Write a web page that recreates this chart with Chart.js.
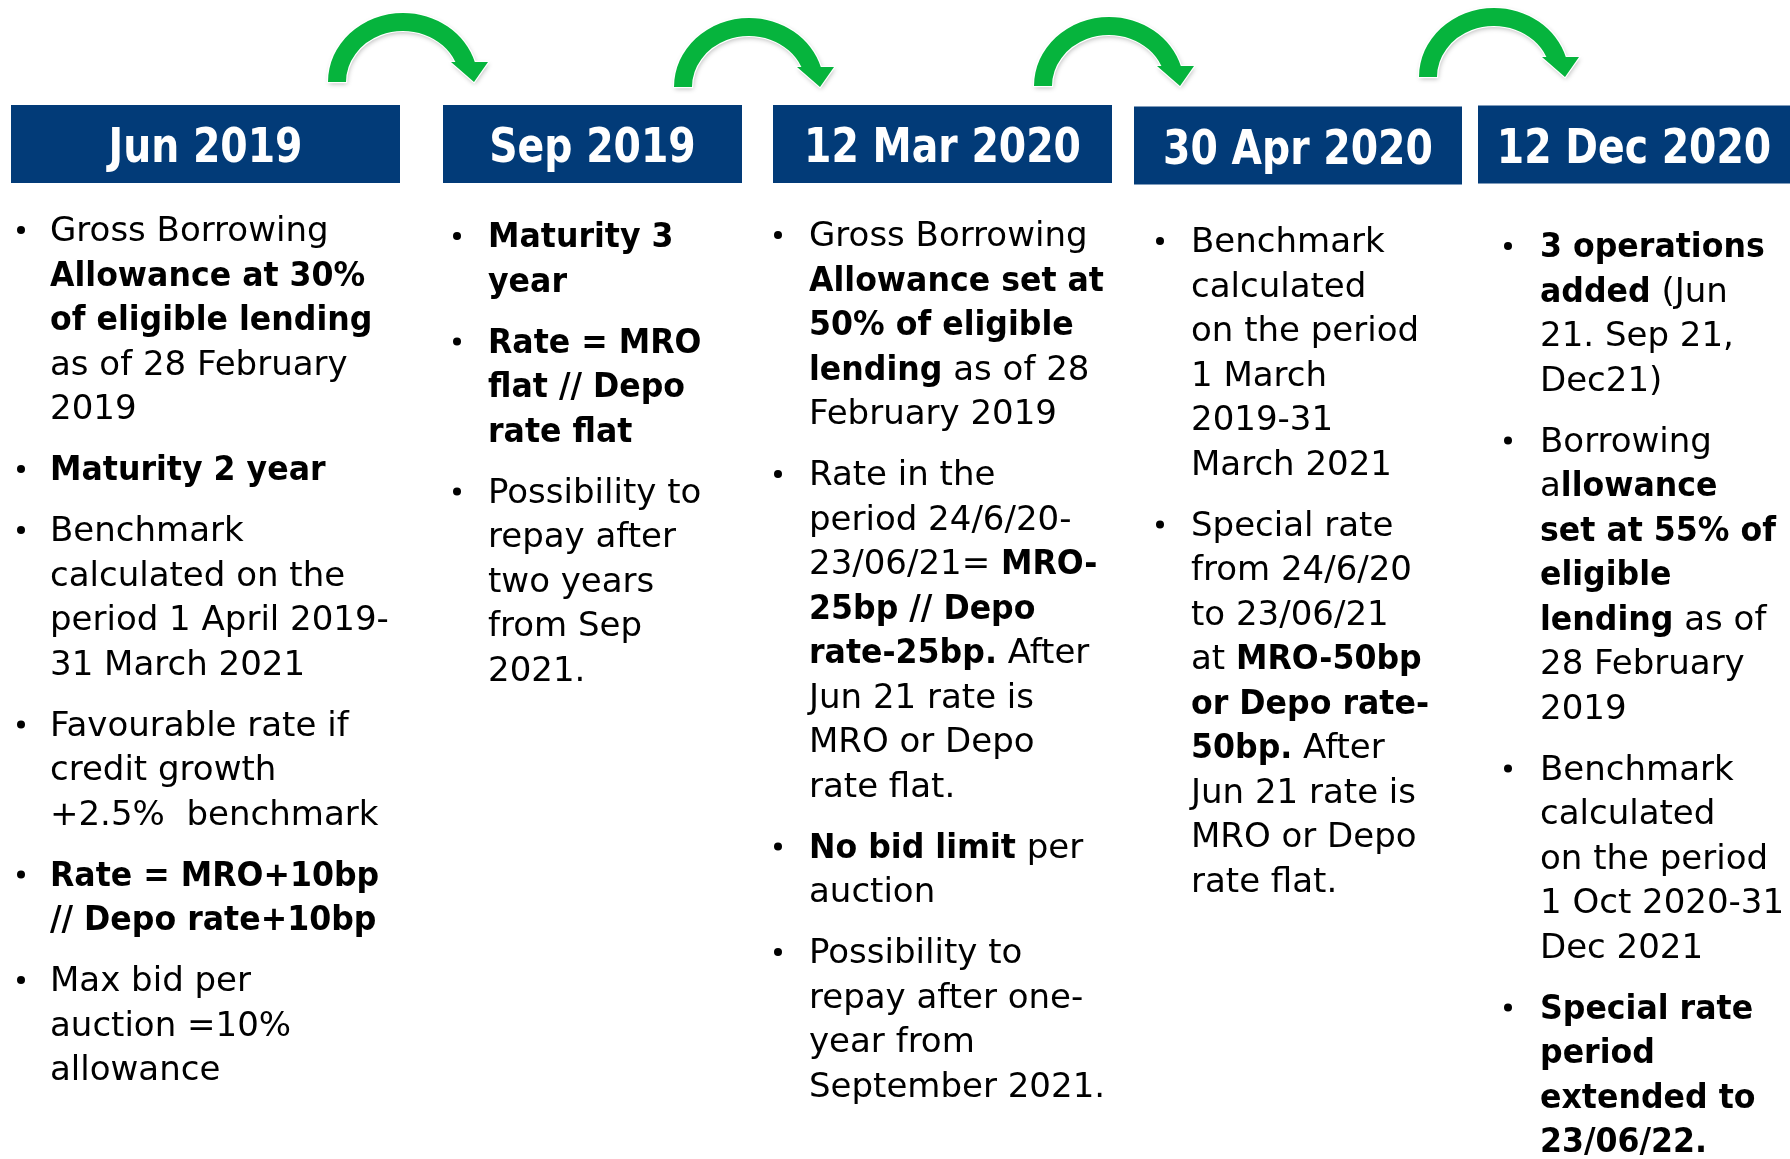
<!DOCTYPE html>
<html>
<head>
<meta charset="utf-8">
<script src="https://cdn.jsdelivr.net/npm/chart.js@4.4.1/dist/chart.umd.min.js"></script>
<style>
html,body{margin:0;padding:0;background:#ffffff;overflow:hidden;}
canvas{display:block;}
</style>
</head>
<body>
<canvas id="timeline" width="1790" height="1159"></canvas>
<script>
// ---------------- DATA ----------------
const periods = ['Jun 2019', 'Sep 2019', '12 Mar 2020', '30 Apr 2020', '12 Dec 2020'];

// each bullet = list of lines; **...** marks bold runs
const bulletsJun2019 = [
  ['Gross Borrowing', '**Allowance at 30%**', '**of eligible lending**', 'as of 28 February', '2019'],
  ['**Maturity 2 year**'],
  ['Benchmark', 'calculated on the', 'period 1 April 2019-', '31 March 2021'],
  ['Favourable rate if', 'credit growth', '+2.5%  benchmark'],
  ['**Rate = MRO+10bp**', '**// Depo rate+10bp**'],
  ['Max bid per', 'auction =10%', 'allowance']
];
const bulletsSep2019 = [
  ['**Maturity 3**', '**year**'],
  ['**Rate = MRO**', '**flat // Depo**', '**rate flat**'],
  ['Possibility to', 'repay after', 'two years', 'from Sep', '2021.']
];
const bulletsMar2020 = [
  ['Gross Borrowing', '**Allowance set at**', '**50% of eligible**', '**lending** as of 28', 'February 2019'],
  ['Rate in the', 'period 24/6/20-', '23/06/21= **MRO-**', '**25bp // Depo**', '**rate-25bp.** After', 'Jun 21 rate is', 'MRO or Depo', 'rate flat.'],
  ['**No bid limit** per', 'auction'],
  ['Possibility to', 'repay after one-', 'year from', 'September 2021.']
];
const bulletsApr2020 = [
  ['Benchmark', 'calculated', 'on the period', '1 March', '2019-31', 'March 2021'],
  ['Special rate', 'from 24/6/20', 'to 23/06/21', 'at **MRO-50bp**', '**or Depo rate-**', '**50bp.** After', 'Jun 21 rate is', 'MRO or Depo', 'rate flat.']
];
const bulletsDec2020 = [
  ['**3 operations**', '**added** (Jun', '21. Sep 21,', 'Dec21)'],
  ['Borrowing', 'a**llowance**', '**set at 55% of**', '**eligible**', '**lending** as of', '28 February', '2019'],
  ['Benchmark', 'calculated', 'on the period', '1 Oct 2020-31', 'Dec 2021'],
  ['**Special rate**', '**period**', '**extended to**', '**23/06/22.**']
];
const columnBullets = [bulletsJun2019, bulletsSep2019, bulletsMar2020, bulletsApr2020, bulletsDec2020];

// ---------------- LAYOUT (page units) ----------------
const PAGE_W = 1790, PAGE_H = 1159;
const headerLeft   = [11, 443, 773, 1134, 1478];
const headerRight  = [400, 742, 1112, 1462, 1790];
const headerMid    = [144, 144, 144, 145.5, 144.5];
const headerThickness = 78;
const bulletDotX   = [21, 457, 778, 1160, 1508];
const textLeft     = [50, 488, 809, 1191, 1540];
const firstBaseline = [241, 247, 246, 252, 257];
const lineStep = 44.5;
const paraGap = 16.5;
const arrowAnchors = [[328, 13], [674, 18], [1034, 17], [1419, 8]];

const BLUE = '#023B78';
const GREEN = '#06B43D';
const BODY_SIZE = 34;
const BOLD_SQUEEZE = 0.93;
const HEAD_SIZE = 48;
const HEAD_SQUEEZE = 0.82;

function runsOf(line) {
  const parts = line.split('**');
  return parts.map((t, i) => ({ text: t, bold: i % 2 === 1 })).filter(r => r.text.length);
}

const timelinePlugin = {
  id: 'timelineDecor',
  afterDatasetsDraw(chart) {
    const ctx = chart.ctx;
    const sx = chart.scales.x, sy = chart.scales.y;
    const X = v => sx.getPixelForValue(v);
    const Y = v => sy.getPixelForValue(v);

    // header labels on the bars
    const meta = chart.getDatasetMeta(0);
    ctx.save();
    ctx.fillStyle = '#ffffff';
    ctx.font = 'bold ' + HEAD_SIZE + 'px "DejaVu Sans"';
    ctx.textBaseline = 'alphabetic';
    ctx.textAlign = 'center';
    meta.data.forEach((bar, i) => {
      const cx = (bar.x + bar.base) / 2;
      ctx.save();
      ctx.translate(cx, bar.y + 18);
      ctx.scale(HEAD_SQUEEZE, 1);
      ctx.fillText(periods[i], 0, 0);
      ctx.restore();
    });
    ctx.restore();

    // arrows
    arrowAnchors.forEach(([L, T]) => {
      const cx = L + 75, cy = T + 69;
      const oRx = 75, oRy = 69, iRx = 57, iRy = 51;
      const endY = T + 49;
      const th = Math.asin((cy - endY) / oRy);
      const ph = Math.asin((cy - endY) / iRy);
      const kx = (X(cx + 1) - X(cx)), ky = (Y(cy + 1) - Y(cy));
      ctx.save();
      ctx.beginPath();
      ctx.moveTo(X(L), Y(cy));
      ctx.ellipse(X(cx), Y(cy), oRx * kx, oRy * ky, 0, Math.PI, 2 * Math.PI - th, false);
      ctx.lineTo(X(L + 160), Y(endY));
      ctx.lineTo(X(L + 146), Y(T + 69));
      ctx.lineTo(X(L + 123), Y(endY));
      ctx.lineTo(X(cx + iRx * Math.cos(ph)), Y(endY));
      ctx.ellipse(X(cx), Y(cy), iRx * kx, iRy * ky, 0, 2 * Math.PI - ph, Math.PI, true);
      ctx.closePath();
      ctx.shadowColor = 'rgba(0,0,0,0.28)';
      ctx.shadowBlur = 5;
      ctx.shadowOffsetX = 1;
      ctx.shadowOffsetY = 2;
      ctx.fillStyle = GREEN;
      ctx.fill();
      ctx.shadowColor = 'transparent';
      ctx.lineJoin = 'miter';
      ctx.strokeStyle = '#ffffff';
      ctx.lineWidth = 2.5;
      ctx.stroke();
      ctx.fillStyle = GREEN;
      ctx.fill();
      ctx.restore();
    });

    // bullet text
    ctx.save();
    ctx.fillStyle = '#000000';
    ctx.textAlign = 'left';
    ctx.textBaseline = 'alphabetic';
    columnBullets.forEach((bullets, c) => {
      let base = firstBaseline[c];
      bullets.forEach((lines, b) => {
        if (b > 0) base += paraGap;
        ctx.beginPath();
        ctx.arc(X(bulletDotX[c]), Y(base - 11), 4, 0, Math.PI * 2);
        ctx.fill();
        lines.forEach((line, li) => {
          if (li > 0) base += lineStep;
          let x = X(textLeft[c]);
          const y = Y(base);
          runsOf(line).forEach(r => {
            ctx.font = (r.bold ? 'bold ' : '') + BODY_SIZE + 'px "DejaVu Sans"';
            const k = r.bold ? BOLD_SQUEEZE : 1;
            const w = ctx.measureText(r.text).width * k;
            ctx.save();
            ctx.translate(x, y);
            ctx.scale(k, 1);
            ctx.fillText(r.text, 0, 0);
            ctx.restore();
            x += w;
          });
        });
        base += lineStep;
      });
    });
    ctx.restore();
  }
};

const headerBars = periods.map((p, i) => ({ x: [headerLeft[i], headerRight[i]], y: headerMid[i] }));

new Chart(document.getElementById('timeline'), {
  type: 'bar',
  data: {
    labels: periods,
    datasets: [{
      label: 'Periods',
      data: headerBars,
      backgroundColor: BLUE,
      borderWidth: 0,
      barThickness: headerThickness,
      inflateAmount: 0
    }]
  },
  options: {
    indexAxis: 'y',
    responsive: false,
    devicePixelRatio: 1,
    animation: false,
    events: [],
    layout: { padding: 0 },
    plugins: { legend: { display: false }, tooltip: { enabled: false } },
    scales: {
      x: { type: 'linear', min: 0, max: PAGE_W, offset: false, display: false, grid: { display: false } },
      y: { type: 'linear', min: 0, max: PAGE_H, offset: false, reverse: true, display: false, grid: { display: false } }
    }
  },
  plugins: [timelinePlugin]
});
</script>
</body>
</html>
